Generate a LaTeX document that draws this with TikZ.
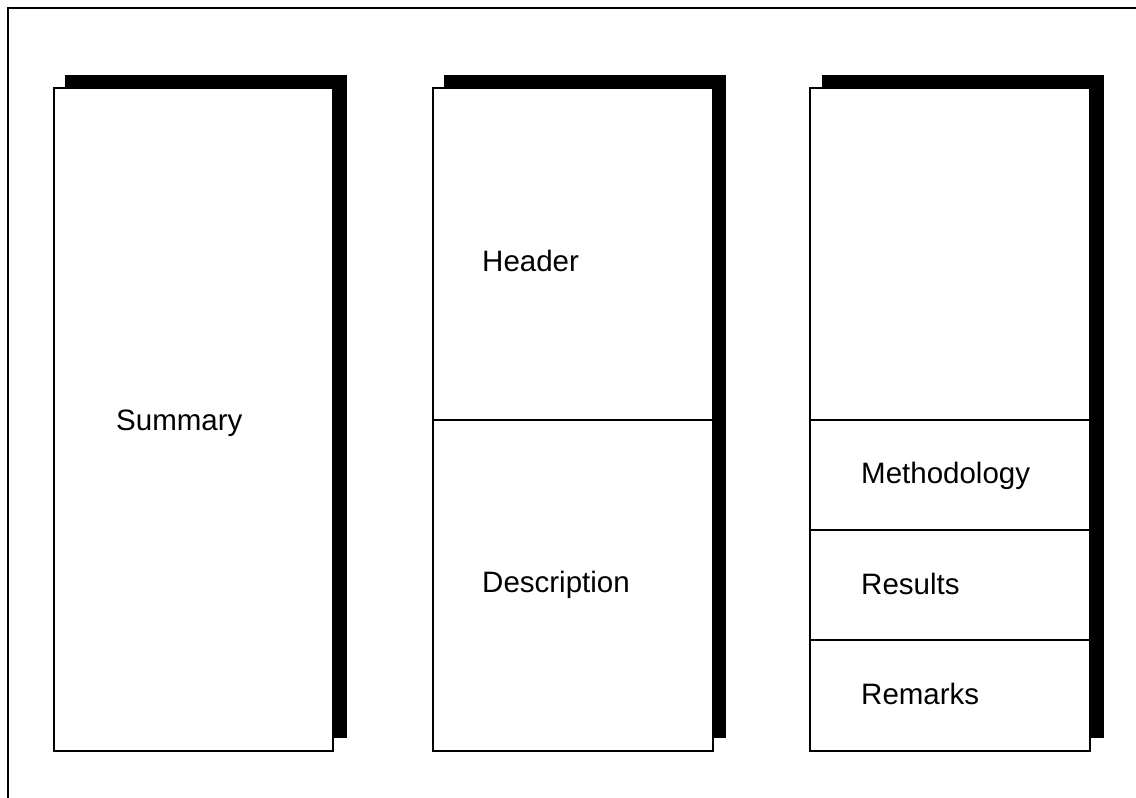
\documentclass[tikz,border=0pt]{standalone}
\usepackage{fontspec}
\setmainfont{Liberation Sans}
\begin{document}
\begin{tikzpicture}[x=1pt,y=-1pt,
  panel/.style={draw=black,line width=2pt,fill=white,rectangle,anchor=north west,
    inner sep=0pt,outer sep=0pt,minimum width=#1,minimum height=663pt},
  shade/.style={fill=black},
  divider/.style={draw=black,line width=2pt},
  frame/.style={draw=black,line width=2pt},
  label/.style={anchor=base west,inner sep=0pt,font=\fontsize{29.5}{34}\selectfont}]
\useasboundingbox (0,0) rectangle (1136,798);
% outer frame (top and left edges)
\coordinate (fTL) at (8,8);
\coordinate (fTR) at (1137,8);
\coordinate (fBL) at (8,799);
\draw[frame] (fTR) -- (fTL) -- (fBL);

% shadows behind the three panels
\fill[shade] (65,75) rectangle (347,738);
\fill[shade] (444,75) rectangle (726,738);
\fill[shade] (822,75) rectangle (1104,738);

% panels
\node[panel=279pt] (b1) at (54,88) {};
\node[panel=280pt] (b2) at (433,88) {};
\node[panel=280pt] (b3) at (810,88) {};

% dividers
\draw[divider] (b2.west |- 0,420) -- (b2.east |- 0,420);
\draw[divider] (b3.west |- 0,420) -- (b3.east |- 0,420);
\draw[divider] (b3.west |- 0,530) -- (b3.east |- 0,530);
\draw[divider] (b3.west |- 0,640) -- (b3.east |- 0,640);

% labels
\node[label] (tSum) at (116,430) {Summary};
\node[label] (tHead) at (482,271) {Header};
\node[label] (tDesc) at (482,592) {Description};
\node[label] (tMeth) at (861,483) {Methodology};
\node[label] (tRes) at (861,594) {Results};
\node[label] (tRem) at (861,704) {Remarks};
\end{tikzpicture}
\end{document}
